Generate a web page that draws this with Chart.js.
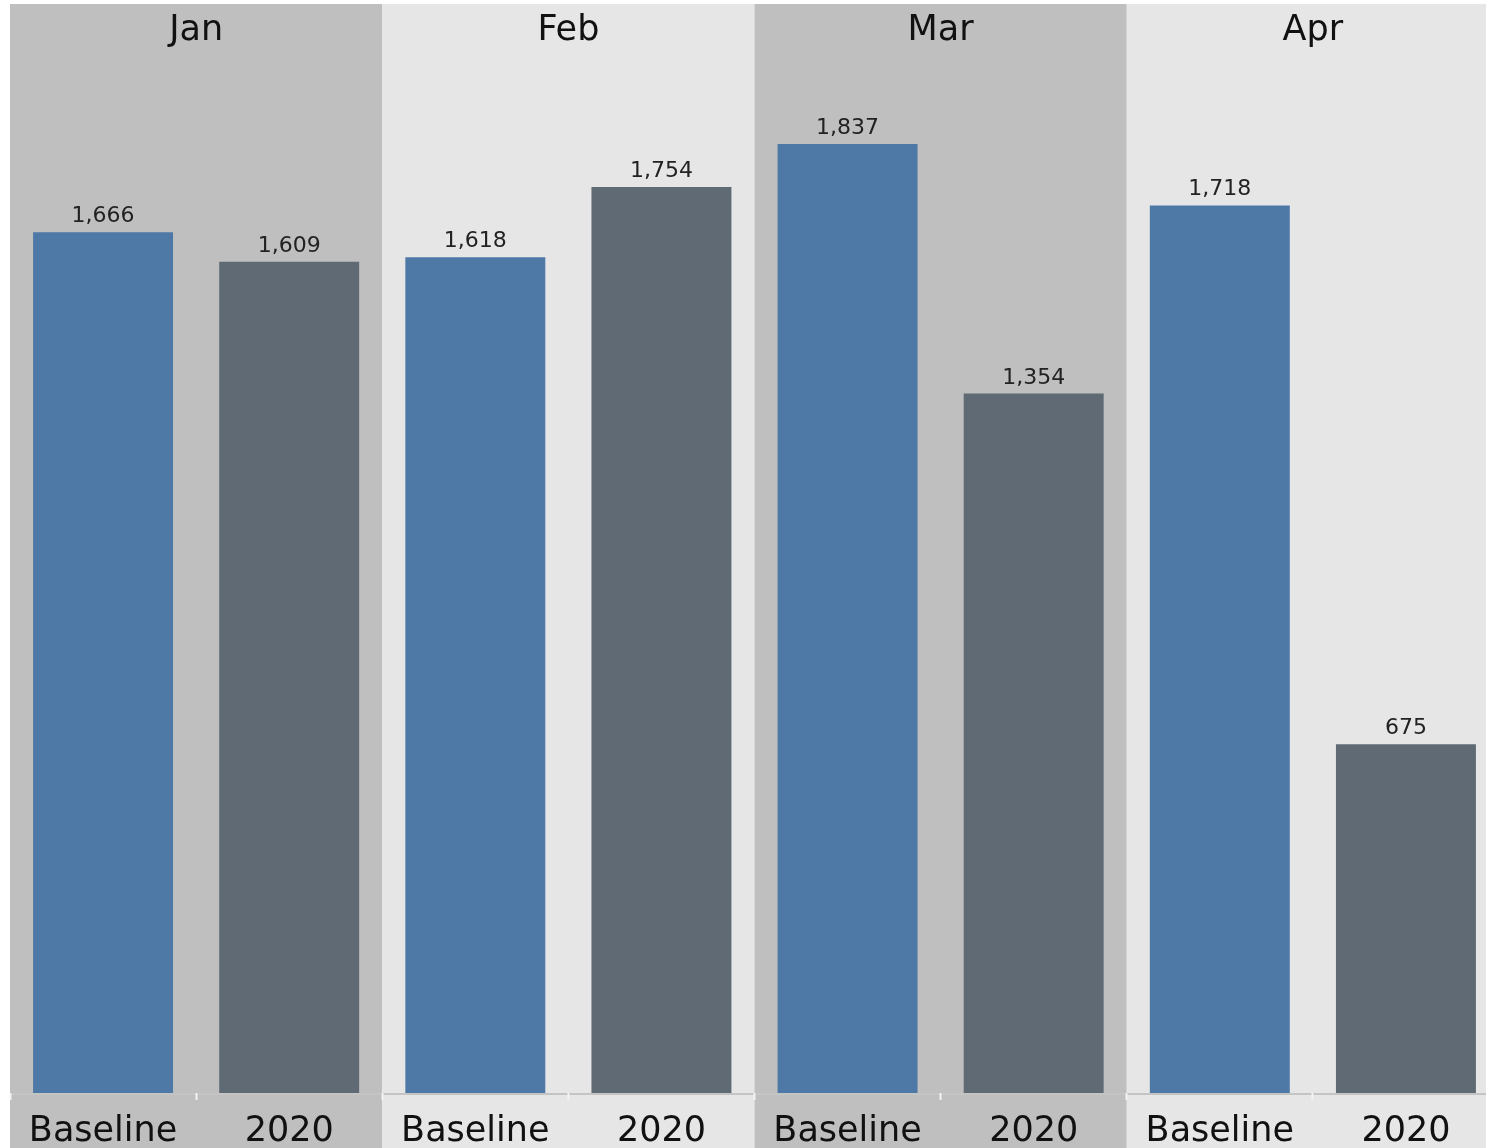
<!DOCTYPE html>
<html><head><meta charset="utf-8">
<script src="https://cdn.jsdelivr.net/npm/chart.js@4"></script>
<style>html,body{margin:0;padding:0;background:#fff;overflow:hidden;width:1486px;height:1148px}</style>
</head><body>
<canvas id="c" width="1499" height="1148" style="display:block;width:1499px;height:1148px"></canvas>
<script>
const months = ['Jan', 'Feb', 'Mar', 'Apr'];
const seriesNames = ['Baseline', '2020'];
const baseline = [1666, 1618, 1837, 1718];
const y2020 = [1609, 1754, 1354, 675];

const labels = [];
const values = [];
const colors = [];
months.forEach((m, i) => {
  labels.push(seriesNames[0]); values.push(baseline[i]); colors.push('#4e79a7');
  labels.push(seriesNames[1]); values.push(y2020[i]); colors.push('#606a74');
});

const panelPlugin = {
  id: 'panels',
  beforeDraw(chart) {
    const ctx = chart.ctx, x = chart.scales.x;
    const half = (x.getPixelForValue(1) - x.getPixelForValue(0)) / 2;
    ctx.save();
    months.forEach((m, i) => {
      const l = x.getPixelForValue(2 * i) - half;
      const r = x.getPixelForValue(2 * i + 1) + half;
      ctx.fillStyle = i % 2 === 0 ? '#bfbfbf' : '#e6e6e6';
      ctx.fillRect(l, chart.chartArea.top, r - l, chart.height - chart.chartArea.top);
    });
    // axis line
    ctx.fillStyle = '#c4c4c4';
    ctx.fillRect(chart.chartArea.left, chart.chartArea.bottom, chart.chartArea.right - chart.chartArea.left, 2);
    // month headers
    ctx.fillStyle = '#111';
    ctx.font = '35px "DejaVu Sans"';
    ctx.textAlign = 'center';
    ctx.textBaseline = 'alphabetic';
    months.forEach((m, i) => {
      const cx = (x.getPixelForValue(2 * i) + x.getPixelForValue(2 * i + 1)) / 2;
      ctx.fillText(m, cx, chart.chartArea.top + 36);
    });
    ctx.restore();
  },
  afterDatasetsDraw(chart) {
    const ctx = chart.ctx;
    const meta = chart.getDatasetMeta(0);
    ctx.save();
    ctx.fillStyle = '#222';
    ctx.font = '22px "DejaVu Sans"';
    ctx.textAlign = 'center';
    ctx.textBaseline = 'alphabetic';
    meta.data.forEach((el, i) => {
      ctx.fillText(values[i].toLocaleString('en-US'), el.x, el.y - 10);
    });
    ctx.restore();
  }
};

new Chart(document.getElementById('c'), {
  type: 'bar',
  data: {
    labels: labels,
    datasets: [{
      data: values,
      backgroundColor: colors,
      borderWidth: 0,
      barPercentage: 0.752,
      categoryPercentage: 1
    }]
  },
  options: {
    responsive: false,
    devicePixelRatio: 1,
    animation: false,
    layout: { padding: { left: 10, top: 4, right: 0, bottom: 0 } },
    plugins: { legend: { display: false }, tooltip: { enabled: false } },
    scales: {
      x: {
        border: { display: false },
        grid: { display: true, drawOnChartArea: false, drawTicks: true, tickLength: 7, tickWidth: 2, tickColor: '#f2f2f2', offset: true },
        ticks: { color: '#111', font: { family: 'DejaVu Sans', size: 35 }, padding: 11, maxRotation: 0, autoSkip: false },
        afterFit(scale) { scale.height = 55; }
      },
      y: {
        display: false,
        min: 0,
        max: 2108
      }
    }
  },
  plugins: [panelPlugin]
});
</script>
</body></html>
